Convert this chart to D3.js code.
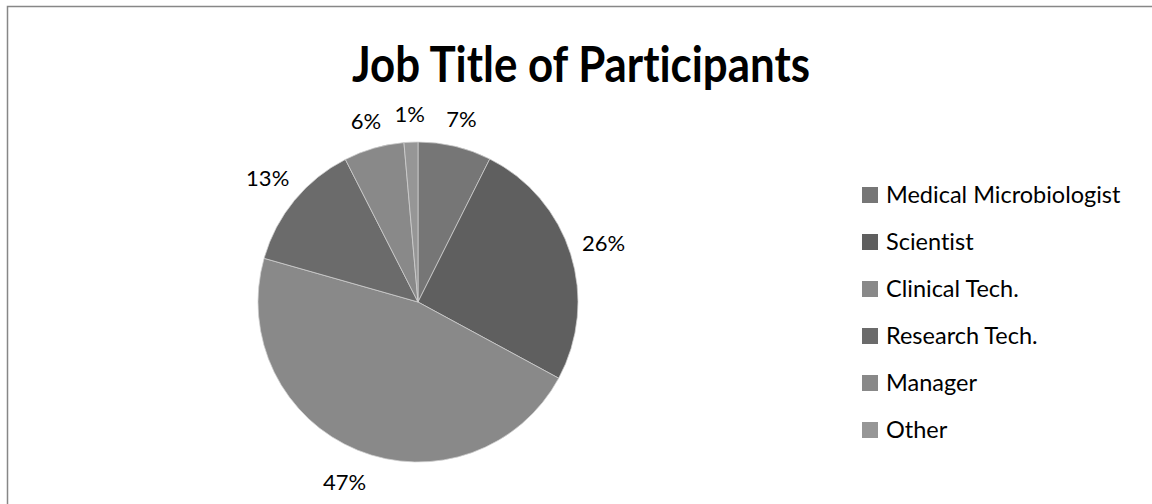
<!DOCTYPE html>
<html>
<head>
<meta charset="utf-8">
<script src="https://cdn.jsdelivr.net/npm/d3@7"></script>
<style>
  body { margin: 0; background: #fff; }
  svg { display: block; }
  text { font-variant-ligatures: none; font-feature-settings: "liga" 0; }
</style>
</head>
<body>
<div id="chart"></div>
<script>
const titleText = "Job Title of Participants";
const jobTitles = ["Medical Microbiologist", "Scientist", "Clinical Tech.", "Research Tech.", "Manager", "Other"];
const shares = [7.4, 25.5, 46.5, 13.1, 6.1, 1.4];
const sliceColors = ["#767676", "#5f5f5f", "#898989", "#6b6b6b", "#898989", "#969696"];

const fontFamily = "Lato, 'Liberation Sans', Arial, sans-serif";

const dimension = {
    width: 1152,
    height: 504,
    cx: 418,
    cy: 302,
    radius: 160
};

const data = jobTitles.map((name, i) => ({ name: name, value: shares[i] }));
const total = d3.sum(shares);

const wrapper = d3.select("#chart")
    .append("svg")
    .attr("width", dimension.width)
    .attr("height", dimension.height);

// chart area border (runs off the right and bottom of the picture)
wrapper.append("rect")
    .attr("x", 7.5)
    .attr("y", 6.5)
    .attr("width", 1300)
    .attr("height", 700)
    .attr("fill", "#fff")
    .attr("stroke", "#878787")
    .attr("stroke-width", 1.5);

wrapper.append("text")
    .attr("x", 581)
    .attr("y", 82)
    .attr("text-anchor", "middle")
    .attr("font-family", fontFamily)
    .attr("font-weight", "bold")
    .attr("font-size", "50px")
    .attr("textLength", 458)
    .attr("lengthAdjust", "spacingAndGlyphs")
    .attr("fill", "#000")
    .text(titleText);

const color = d3.scaleOrdinal()
    .domain(jobTitles)
    .range(sliceColors);

const pie = d3.pie()
    .sort(null)
    .value(d => d.value);

const arc = d3.arc()
    .innerRadius(0)
    .outerRadius(dimension.radius);

const arcs = pie(data);

const bounds = wrapper.append("g")
    .attr("transform", `translate(${dimension.cx},${dimension.cy})`);

bounds.selectAll("path")
    .data(arcs)
    .enter()
    .append("path")
    .attr("d", arc)
    .attr("fill", d => color(d.data.name))
    .attr("stroke", "#d0d0d0")
    .attr("stroke-width", 0.75);

// percentage labels just outside each slice
const labels = bounds.selectAll(".pct")
    .data(arcs)
    .enter()
    .append("text")
    .attr("class", "pct")
    .attr("text-anchor", "middle")
    .attr("dy", "0.35em")
    .attr("font-family", fontFamily)
    .attr("font-size", "22px")
    .attr("fill", "#000")
    .text(d => Math.round(d.data.value / total * 100) + "%");

labels.each(function (d) {
    const halfW = this.getComputedTextLength() / 2;
    const r = dimension.radius + 13 + halfW;
    const a = (d.startAngle + d.endAngle) / 2;
    d3.select(this)
        .attr("x", Math.sin(a) * r)
        .attr("y", -Math.cos(a) * r);
});

// legend
const legendY = d3.scalePoint()
    .domain(jobTitles)
    .range([195, 430]);

const legend = wrapper.append("g")
    .selectAll("g")
    .data(jobTitles)
    .enter()
    .append("g")
    .attr("transform", d => `translate(862,${legendY(d)})`);

legend.append("rect")
    .attr("x", 0)
    .attr("y", -8)
    .attr("width", 16)
    .attr("height", 16)
    .attr("fill", d => color(d));

legend.append("text")
    .attr("x", 24)
    .attr("y", 0)
    .attr("dy", "0.36em")
    .attr("font-family", fontFamily)
    .attr("font-size", "23.5px")
    .attr("fill", "#000")
    .text(d => d);
</script>
</body>
</html>
